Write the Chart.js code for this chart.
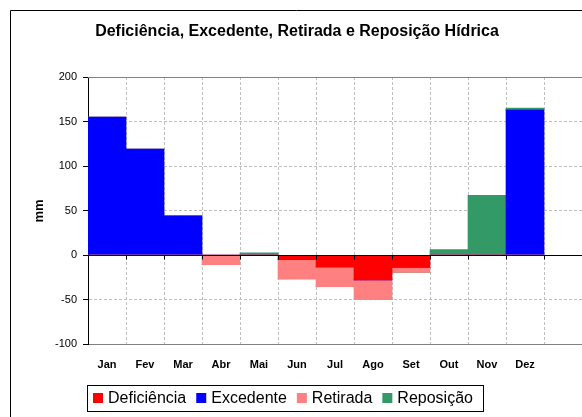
<!DOCTYPE html>
<html>
<head>
<meta charset="utf-8">
<script src="https://cdn.jsdelivr.net/npm/chart.js@4/dist/chart.umd.min.js"></script>
<style>
  body { margin: 0; background: #fff; }
  canvas { display: block; }
</style>
</head>
<body>
<canvas id="hydroChart" width="582" height="417"></canvas>
<script>
// month labels (last slot is an empty category, as in the original sheet)
const months = ['Jan', 'Fev', 'Mar', 'Abr', 'Mai', 'Jun', 'Jul', 'Ago', 'Set', 'Out', 'Nov', 'Dez', ''];

// values in mm
const deficiencia = [0, 0, 0, 0, 0, -5, -13.5, -28, -14, 0, 0, 0];
const excedente = [155, 119, 44, 0, 0, 0, 0, 0, 0, 0, 0, 163];
const retirada = [0, 0, 0, -11, 0, -22, -22, -22, -5.5, 0, 0, 0];
const reposicao = [0, 0, 0, 0, 2.3, 0, 0, 0, 0, 6, 67, 2];

const yTicks = [-100, -50, 0, 50, 100, 150, 200];

const chartTitle = 'Deficiência, Excedente, Retirada e Reposição Hídrica';
const FONT = "'Liberation Sans', Arial, sans-serif";

const framePlugin = {
    id: 'framePlugin',
    beforeDraw(chart) {
        const ctx = chart.ctx;
        ctx.save();
        ctx.fillStyle = '#fff';
        ctx.fillRect(0, 0, chart.width, chart.height);
        ctx.restore();
    },
    afterDatasetsDraw(chart) {
        const { ctx, chartArea: a, scales: { x, y } } = chart;
        ctx.save();
        ctx.lineWidth = 1;

        // plot area border (top)
        ctx.strokeStyle = '#808080';
        const yTop = Math.round(y.getPixelForValue(yTicks[yTicks.length - 1])) + 0.5;
        ctx.beginPath();
        ctx.moveTo(a.left, yTop);
        ctx.lineTo(a.right, yTop);
        ctx.stroke();

        // zero line with category ticks
        const y0 = Math.round(y.getPixelForValue(0)) + 0.5;
        ctx.strokeStyle = '#000';
        ctx.beginPath();
        ctx.moveTo(a.left, y0);
        ctx.lineTo(a.right, y0);
        const w = (a.right - a.left) / months.length;
        for (let i = 1; i <= months.length; i++) {
            const xb = Math.round(a.left + i * w) + 0.5;
            ctx.moveTo(xb, y0);
            ctx.lineTo(xb, y0 + 4);
        }
        ctx.stroke();
        ctx.restore();
    },
    afterDraw(chart) {
        const ctx = chart.ctx;
        ctx.save();

        // outer frame
        ctx.strokeStyle = '#000';
        ctx.lineWidth = 1;
        ctx.beginPath();
        ctx.moveTo(10.5, chart.height);
        ctx.lineTo(10.5, 10.5);
        ctx.lineTo(chart.width, 10.5);
        ctx.stroke();

        // title
        ctx.fillStyle = '#000';
        ctx.font = 'bold 16px ' + FONT;
        ctx.textAlign = 'center';
        ctx.textBaseline = 'middle';
        ctx.fillText(chartTitle, 297, 32);

        // y axis title
        ctx.save();
        ctx.translate(39, 211);
        ctx.rotate(-Math.PI / 2);
        ctx.font = 'bold 13px ' + FONT;
        ctx.fillText('mm', 0, 0);
        ctx.restore();

        // legend
        ctx.strokeRect(87.5, 385.5, 396, 26);
        ctx.font = '16px ' + FONT;
        ctx.textAlign = 'left';
        let lx = 93;
        chart.data.datasets.forEach(ds => {
            ctx.fillStyle = ds.backgroundColor;
            ctx.fillRect(lx, 393, 10, 10);
            ctx.fillStyle = '#000';
            ctx.fillText(ds.label, lx + 15, 398.5);
            lx += 15 + ctx.measureText(ds.label).width + 10;
        });
        ctx.restore();
    }
};

const barOpts = { barPercentage: 1, categoryPercentage: 1, borderWidth: 0 };

new Chart(document.getElementById('hydroChart'), {
    type: 'bar',
    data: {
        labels: months,
        datasets: [
            { label: 'Deficiência', data: deficiencia, backgroundColor: '#ff0000', ...barOpts },
            { label: 'Excedente', data: excedente, backgroundColor: '#0000ff', ...barOpts },
            { label: 'Retirada', data: retirada, backgroundColor: '#ff8080', ...barOpts },
            { label: 'Reposição', data: reposicao, backgroundColor: '#339966', ...barOpts }
        ]
    },
    options: {
        responsive: false,
        animation: false,
        devicePixelRatio: 1,
        layout: { padding: { top: 77, left: 10, right: 0, bottom: 43 } },
        plugins: {
            legend: { display: false },
            title: { display: false },
            tooltip: { enabled: false }
        },
        scales: {
            x: {
                stacked: true,
                afterFit: s => { s.height = 30; },
                grid: {
                    offset: true,
                    drawTicks: false,
                    color: '#c0c0c0'
                },
                border: { display: true, color: '#808080', dash: [3, 2] },
                ticks: {
                    color: '#000',
                    padding: 14,
                    font: { family: FONT, size: 11, weight: 'bold' }
                }
            },
            y: {
                stacked: true,
                min: yTicks[0],
                max: yTicks[yTicks.length - 1],
                afterFit: s => { s.width = 78; },
                afterBuildTicks: s => { s.ticks = yTicks.map(v => ({ value: v })); },
                grid: {
                    color: c => (c.tick && [0, 200, -100].includes(c.tick.value)) ? 'rgba(0,0,0,0)' : '#c0c0c0',
                    tickColor: '#000',
                    tickLength: 5
                },
                border: { display: true, color: '#000', width: 1, dash: [3, 2] },
                ticks: {
                    color: '#000',
                    padding: 6,
                    font: { family: FONT, size: 11 }
                }
            }
        }
    },
    plugins: [framePlugin]
});
</script>
</body>
</html>
